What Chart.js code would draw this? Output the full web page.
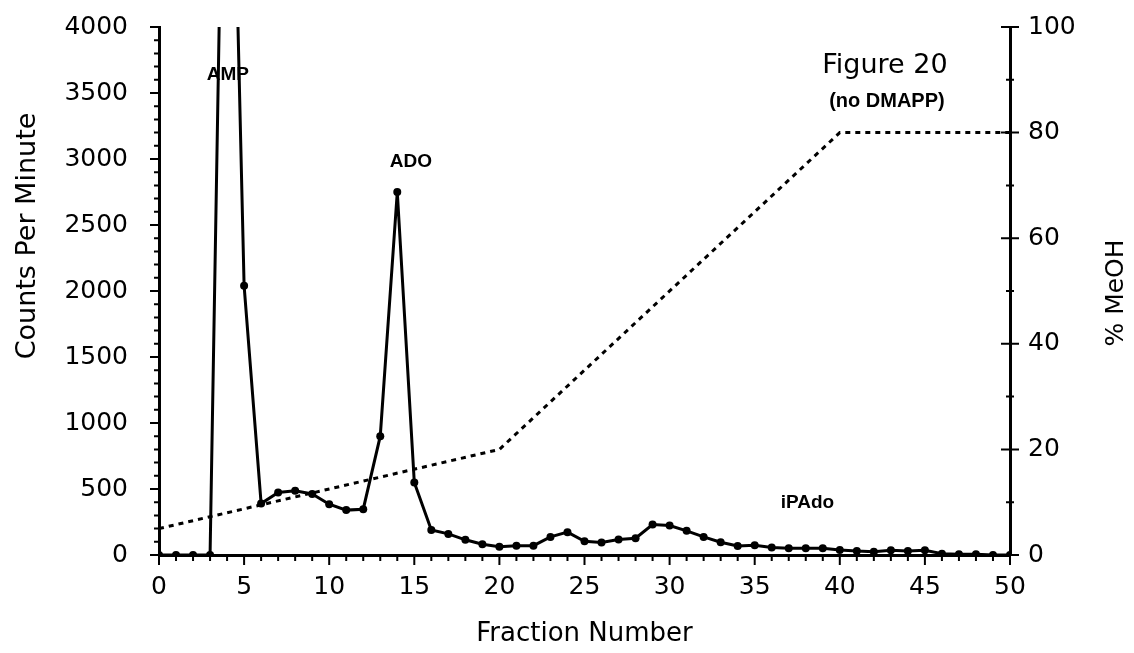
<!DOCTYPE html>
<html><head><meta charset="utf-8">
<script src="https://cdn.jsdelivr.net/npm/chart.js@4.4.1/dist/chart.umd.min.js"></script>
<style>html,body{margin:0;padding:0;background:#fff}#wrap{width:1134px;height:653px;position:relative}</style>
</head><body><div id="wrap"><canvas id="c" width="1134" height="653"></canvas></div>
<script>
// ---- data ----
const fractions = [0,1,2,3,4,5,6,7,8,9,10,11,12,13,14,15,16,17,18,19,20,21,22,23,24,25,26,27,28,29,30,31,32,33,34,35,36,37,38,39,40,41,42,43,44,45,46,47,48,49,50];
const countsPerMinute = [0,0,0,0,7500,2040,390,474,487,462,385,340,347,900,2750,550,190,160,115,81,63,71,71,137,173,104,94,117,127,231,223,183,137,97,68,73,56,51,51,51,38,30,25,36,30,36,10,5,5,0,0];
const gradientFractions = [0,20,40,50];
const gradientMeOH = [5,20,80,80];
const xTickValues = [0,5,10,15,20,25,30,35,40,45,50];
const yTickValues = [0,500,1000,1500,2000,2500,3000,3500,4000];
const y1TickValues = [0,20,40,60,80,100];
const peakLabels = ['AMP','ADO','iPAdo'];
const peakLabelX = [4.05,14.8,38.1];
const peakLabelY = [3636,2977,394];
const titleText = ['Figure 20','(no DMAPP)'];

const FONT = 'DejaVu Sans';
const xMinor = 1, yMinor = 100, y1Minor = 10;

const tickPlugin = {
  id:'customTicks',
  afterDraw(chart){
    const ctx = chart.ctx, sx = chart.scales.x, sy = chart.scales.y, sy1 = chart.scales.y1, a = chart.chartArea;
    ctx.save();
    ctx.strokeStyle = '#000'; ctx.lineWidth = 2;
    ctx.beginPath();
    for (let v = sx.min; v <= sx.max; v += xMinor) {
      const p = sx.getPixelForValue(v), len = (v % 5 === 0) ? 10 : 6;
      ctx.moveTo(p, a.bottom); ctx.lineTo(p, a.bottom + len);
    }
    for (let v = sy.min; v <= sy.max; v += yMinor) {
      const p = sy.getPixelForValue(v), len = (v % 500 === 0) ? 9 : 5;
      ctx.moveTo(a.left, p); ctx.lineTo(a.left - len, p);
    }
    for (let v = sy1.min; v <= sy1.max; v += y1Minor) {
      const p = sy1.getPixelForValue(v), len = (v % 20 === 0) ? 9 : 4;
      ctx.moveTo(a.right - len, p); ctx.lineTo(a.right + len, p);
    }
    ctx.stroke();
    // peak labels
    ctx.fillStyle = '#000';
    ctx.textAlign = 'center'; ctx.textBaseline = 'middle';
    ctx.font = 'bold 19px "Liberation Sans"';
    peakLabels.forEach((t,i)=>{
      ctx.fillText(t, sx.getPixelForValue(peakLabelX[i]), sy.getPixelForValue(peakLabelY[i]));
    });
    ctx.font = '27px "' + FONT + '"';
    ctx.fillText(titleText[0], sx.getPixelForValue(42.65), sy.getPixelForValue(3705));
    ctx.font = 'bold 20px "Liberation Sans"';
    ctx.fillText(titleText[1], sx.getPixelForValue(42.77), sy.getPixelForValue(3432));
    // axis titles
    ctx.font = '27px "' + FONT + '"';
    ctx.save(); ctx.translate(28, 236); ctx.rotate(-Math.PI/2); ctx.fillText('Counts Per Minute', 0, 0); ctx.restore();
    ctx.font = '25px "' + FONT + '"';
    ctx.save(); ctx.translate(1116, 293); ctx.rotate(-Math.PI/2); ctx.fillText('% MeOH', 0, 0); ctx.restore();
    ctx.font = '26px "' + FONT + '"';
    ctx.fillText('Fraction Number', (a.left + a.right)/2, 634);
    ctx.restore();
  }
};

const tickFont = {family: FONT, size: 25};
const plain = v => String(v);
new Chart(document.getElementById('c'), {
  type: 'line',
  data: {
    datasets: [
      {
        label: 'CPM',
        data: fractions.map((f,i)=>({x:f, y:countsPerMinute[i]})),
        yAxisID: 'y',
        borderColor: '#000', borderWidth: 3,
        pointRadius: 4, pointBackgroundColor: '#000', pointBorderWidth: 0,
        tension: 0
      },
      {
        label: '% MeOH',
        data: gradientFractions.map((f,i)=>({x:f, y:gradientMeOH[i]})),
        yAxisID: 'y1',
        borderColor: '#000', borderWidth: 3, borderDash: [5,5],
        pointRadius: 0, tension: 0
      }
    ]
  },
  options: {
    responsive: false, animation: false,
    layout: {padding: {top: 27, left: 0, right: 0, bottom: 0}},
    plugins: {legend: {display: false}, tooltip: {enabled: false}},
    scales: {
      x: {
        type: 'linear', position: 'bottom', min: 0, max: 50,
        afterBuildTicks: s => { s.ticks = xTickValues.map(v=>({value:v})); },
        ticks: {font: tickFont, color: '#000', padding: 0, maxRotation: 0, autoSkip: false, callback: plain},
        grid: {drawOnChartArea: false, tickLength: 17, tickColor: 'rgba(0,0,0,0)'},
        border: {color: '#000', width: 3},
        afterFit: s => { s.height = 98; }
      },
      y: {
        type: 'linear', position: 'left', min: 0, max: 4000,
        afterBuildTicks: s => { s.ticks = yTickValues.map(v=>({value:v})); },
        ticks: {font: tickFont, color: '#000', padding: 1, autoSkip: false, callback: plain},
        grid: {drawOnChartArea: false, tickLength: 30, tickColor: 'rgba(0,0,0,0)'},
        border: {color: '#000', width: 3},
        afterFit: s => { s.width = 159; }
      },
      y1: {
        type: 'linear', position: 'right', min: 0, max: 100,
        afterBuildTicks: s => { s.ticks = y1TickValues.map(v=>({value:v})); },
        ticks: {font: tickFont, color: '#000', padding: 0, autoSkip: false, callback: plain},
        grid: {drawOnChartArea: false, tickLength: 18, tickColor: 'rgba(0,0,0,0)'},
        border: {color: '#000', width: 3},
        afterFit: s => { s.width = 124; }
      }
    }
  },
  plugins: [tickPlugin]
});
</script></body></html>
